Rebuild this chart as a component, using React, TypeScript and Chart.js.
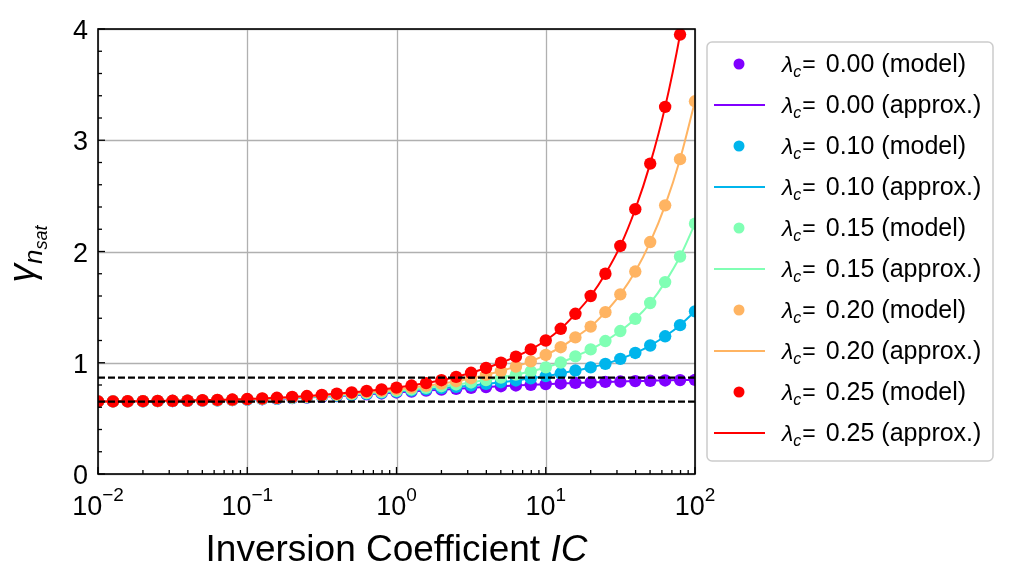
import { useEffect, useRef } from 'react'
import Chart from 'chart.js/auto'

// inversion coefficient sample points (10 per decade)
const IC = [0.01, 0.0126, 0.0158, 0.02, 0.0251, 0.0316, 0.0398, 0.0501, 0.0631, 0.0794,
  0.1, 0.126, 0.158, 0.2, 0.251, 0.316, 0.398, 0.501, 0.631, 0.794,
  1, 1.26, 1.58, 2, 2.51, 3.16, 3.98, 5.01, 6.31, 7.94,
  10, 12.6, 15.8, 20, 25.1, 31.6, 39.8, 50.1, 63.1, 79.4, 100]

const gamma000 = [0.652, 0.653, 0.653, 0.654, 0.655, 0.656, 0.658, 0.660, 0.662, 0.664,
  0.668, 0.672, 0.676, 0.682, 0.687, 0.694, 0.701, 0.708, 0.716, 0.724,
  0.733, 0.741, 0.750, 0.758, 0.766, 0.774, 0.782, 0.789, 0.796, 0.802,
  0.808, 0.814, 0.819, 0.823, 0.828, 0.831, 0.835, 0.838, 0.841, 0.844, 0.846]
const gamma010 = [0.652, 0.653, 0.653, 0.654, 0.655, 0.656, 0.658, 0.660, 0.663, 0.665,
  0.669, 0.673, 0.677, 0.684, 0.689, 0.697, 0.704, 0.712, 0.721, 0.730,
  0.740, 0.750, 0.761, 0.772, 0.783, 0.796, 0.810, 0.825, 0.841, 0.860,
  0.880, 0.905, 0.930, 0.958, 0.990, 1.035, 1.088, 1.155, 1.238, 1.338, 1.462]
const gamma015 = [0.652, 0.653, 0.653, 0.654, 0.656, 0.657, 0.659, 0.661, 0.663, 0.666,
  0.670, 0.675, 0.679, 0.686, 0.692, 0.700, 0.709, 0.717, 0.727, 0.737,
  0.748, 0.760, 0.774, 0.789, 0.805, 0.823, 0.844, 0.867, 0.893, 0.923,
  0.958, 1.002, 1.057, 1.120, 1.195, 1.285, 1.395, 1.537, 1.725, 1.955, 2.250]
const gamma020 = [0.652, 0.653, 0.654, 0.655, 0.656, 0.657, 0.659, 0.662, 0.665, 0.667,
  0.672, 0.677, 0.682, 0.689, 0.696, 0.705, 0.714, 0.724, 0.735, 0.747,
  0.761, 0.776, 0.793, 0.812, 0.834, 0.861, 0.891, 0.926, 0.965, 1.012,
  1.070, 1.140, 1.228, 1.325, 1.455, 1.615, 1.820, 2.085, 2.415, 2.830, 3.350]
const gamma025 = [0.652, 0.653, 0.654, 0.655, 0.657, 0.658, 0.660, 0.663, 0.666, 0.669,
  0.674, 0.679, 0.685, 0.693, 0.701, 0.711, 0.722, 0.733, 0.746, 0.760,
  0.776, 0.795, 0.817, 0.843, 0.873, 0.910, 0.953, 1.000, 1.055, 1.120,
  1.200, 1.305, 1.440, 1.600, 1.800, 2.050, 2.380, 2.790, 3.300, 3.950, 4.760]

const SERIES = [gamma000, gamma010, gamma015, gamma020, gamma025]
const LAMBDAS = ['0.00', '0.10', '0.15', '0.20', '0.25']
const COLORS = ['#8000ff', '#00b5ec', '#80ffb4', '#ffb462', '#ff0000']

// asymptotes (weak / strong inversion)
const GAMMA_WI = 0.65
const GAMMA_SI = 0.867
const DASH_X = [0.01, 100]

const X_DECADES = [0.01, 0.1, 1, 10, 100]
const X_LABELS = ['−2', '−1', '0', '1', '2']
const Y_TICKS = [0, 1, 2, 3, 4]

const FAM = '"Liberation Sans", Arial, sans-serif'

type Run = { t: string; f: string; dy?: number; gap?: number }

function runsWidth(ctx: CanvasRenderingContext2D, runs: Run[]) {
  let w = 0
  for (const r of runs) { ctx.font = r.f; w += ctx.measureText(r.t).width + (r.gap || 0) }
  return w
}
function drawRuns(ctx: CanvasRenderingContext2D, runs: Run[], x: number, y: number) {
  for (const r of runs) {
    ctx.font = r.f
    ctx.fillText(r.t, x, y + (r.dy || 0))
    x += ctx.measureText(r.t).width + (r.gap || 0)
  }
}

const decor = {
  id: 'decor',
  beforeDatasetsDraw(chart: any) {
    const { ctx, chartArea: a, scales } = chart
    ctx.save()
    ctx.strokeStyle = '#b0b0b0'
    ctx.lineWidth = 1.3
    for (const v of X_DECADES) {
      const x = Math.round(scales.x.getPixelForValue(v)) + 0.5
      ctx.beginPath(); ctx.moveTo(x, a.top); ctx.lineTo(x, a.bottom); ctx.stroke()
    }
    for (const v of Y_TICKS) {
      const y = Math.round(scales.y.getPixelForValue(v)) + 0.5
      ctx.beginPath(); ctx.moveTo(a.left, y); ctx.lineTo(a.right, y); ctx.stroke()
    }
    ctx.restore()
  },
  afterDatasetsDraw(chart: any) {
    const { ctx, chartArea: a, scales } = chart
    ctx.save()
    ctx.strokeStyle = '#000'
    ctx.lineWidth = 1.6
    ctx.strokeRect(a.left, a.top, a.right - a.left, a.bottom - a.top)

    // inward ticks
    ctx.lineWidth = 1.3
    for (let d = 0; d < X_DECADES.length; d++) {
      const base = X_DECADES[d]
      const x = scales.x.getPixelForValue(base)
      ctx.beginPath(); ctx.moveTo(x, a.bottom); ctx.lineTo(x, a.bottom - 7); ctx.stroke()
      if (d < X_DECADES.length - 1) {
        for (let m = 2; m <= 9; m++) {
          const xm = scales.x.getPixelForValue(base * m)
          ctx.beginPath(); ctx.moveTo(xm, a.bottom); ctx.lineTo(xm, a.bottom - 4); ctx.stroke()
        }
      }
    }
    for (let i = 0; i <= 20; i++) {
      const y = scales.y.getPixelForValue(i * 0.2)
      const len = i % 5 === 0 ? 7 : 4
      ctx.beginPath(); ctx.moveTo(a.left, y); ctx.lineTo(a.left + len, y); ctx.stroke()
    }

    // tick labels
    ctx.fillStyle = '#000'
    ctx.textBaseline = 'alphabetic'
    ctx.textAlign = 'left'
    for (const v of Y_TICKS) {
      const y = scales.y.getPixelForValue(v)
      ctx.font = `27px ${FAM}`
      const w = ctx.measureText(String(v)).width
      ctx.fillText(String(v), a.left - 10 - w, y + 10)
    }
    X_DECADES.forEach((v, i) => {
      const x = scales.x.getPixelForValue(v)
      const runs: Run[] = [{ t: '10', f: `27px ${FAM}` }, { t: X_LABELS[i], f: `19px ${FAM}`, dy: -14 }]
      const w = runsWidth(ctx, runs)
      drawRuns(ctx, runs, x - w / 2, a.bottom + 41)
    })

    // axis titles
    const xt: Run[] = [{ t: 'Inversion Coefficient ', f: `37px ${FAM}` }, { t: 'IC', f: `italic 37px ${FAM}` }]
    drawRuns(ctx, xt, (a.left + a.right) / 2 - runsWidth(ctx, xt) / 2, 561)
    const yt: Run[] = [
      { t: 'γ', f: `italic 37px ${FAM}` },
      { t: 'n', f: `italic 26px ${FAM}`, dy: 8 },
      { t: 'sat', f: `italic 18px ${FAM}`, dy: 13 },
    ]
    ctx.save()
    ctx.translate(34, 254)
    ctx.rotate(-Math.PI / 2)
    drawRuns(ctx, yt, -runsWidth(ctx, yt) / 2, 0)
    ctx.restore()

    // legend
    const lx = 707, ly = 42, lw = 286, lh = 419
    ctx.beginPath()
    ctx.roundRect(lx, ly, lw, lh, 5)
    ctx.fillStyle = 'rgba(255,255,255,0.8)'
    ctx.fill()
    ctx.strokeStyle = '#cccccc'
    ctx.lineWidth = 1.5
    ctx.stroke()
    let row = 0
    LAMBDAS.forEach((lam, i) => {
      for (const kind of ['model', 'approx.']) {
        const cy = 64 + row * 41
        ctx.fillStyle = COLORS[i]
        ctx.strokeStyle = COLORS[i]
        if (kind === 'model') {
          ctx.beginPath(); ctx.arc(739, cy, 5.5, 0, Math.PI * 2); ctx.fill()
        } else {
          ctx.lineWidth = 2
          ctx.beginPath(); ctx.moveTo(714, cy); ctx.lineTo(765, cy); ctx.stroke()
        }
        ctx.fillStyle = '#000'
        drawRuns(ctx, [
          { t: 'λ', f: `italic 23px ${FAM}` },
          { t: 'c', f: `italic 16px ${FAM}`, dy: 5, gap: 1 },
          { t: '=', f: `23px ${FAM}`, gap: 10 },
          { t: `${lam} (${kind})`, f: `25px ${FAM}` },
        ], 782, cy + 8)
        row++
      }
    })
    ctx.restore()
  },
}

export default function App() {
  const ref = useRef<HTMLCanvasElement>(null)
  useEffect(() => {
    if (!ref.current) return
    const datasets: any[] = []
    SERIES.forEach((vals, i) => {
      const pts = IC.map((x, j) => ({ x, y: vals[j] }))
      datasets.push({
        type: 'scatter', data: pts, backgroundColor: COLORS[i], borderWidth: 0,
        pointRadius: 6.2, pointHoverRadius: 6.2, order: 100 - 2 * i,
      })
      datasets.push({
        type: 'line', data: pts, borderColor: COLORS[i], borderWidth: 2, pointRadius: 0,
        cubicInterpolationMode: 'monotone', fill: false, order: 99 - 2 * i,
      })
    })
    for (const g of [GAMMA_SI, GAMMA_WI]) {
      datasets.push({
        type: 'line', data: DASH_X.map((x) => ({ x, y: g })), borderColor: '#000', borderWidth: 2.2,
        borderDash: [7, 3], pointRadius: 0, fill: false, order: 0,
      })
    }
    const chart = new Chart(ref.current, {
      type: 'scatter',
      data: { datasets },
      options: {
        responsive: false,
        animation: false,
        devicePixelRatio: 1,
        events: [],
        layout: { padding: { left: 98, right: 317, top: 29, bottom: 112 } },
        plugins: { legend: { display: false }, tooltip: { enabled: false } },
        scales: {
          x: { type: 'logarithmic', min: 0.01, max: 100, display: false },
          y: { type: 'linear', min: 0, max: 4, display: false },
        },
      },
      plugins: [decor],
    } as any)
    return () => chart.destroy()
  }, [])
  return (
    <div style={{ position: 'absolute', left: 0, top: 0, width: 1012, height: 586, background: '#fff' }}>
      <canvas ref={ref} width={1012} height={586} />
    </div>
  )
}
